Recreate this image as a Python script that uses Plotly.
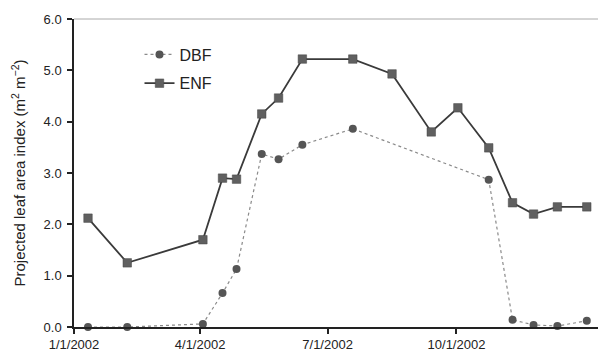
import plotly.graph_objects as go

dates = ["2002-01-11", "2002-02-08", "2002-04-03", "2002-04-17", "2002-04-27",
         "2002-05-15", "2002-05-27", "2002-06-13", "2002-07-19", "2002-08-16",
         "2002-09-13", "2002-10-02", "2002-10-24", "2002-11-10", "2002-11-25",
         "2002-12-12", "2003-01-02"]

dbf_dates = ["2002-01-11", "2002-02-08", "2002-04-03", "2002-04-17", "2002-04-27",
             "2002-05-15", "2002-05-27", "2002-06-13", "2002-07-19",
             "2002-10-24", "2002-11-10", "2002-11-25", "2002-12-12", "2003-01-02"]
dbf_vals = [0.0, 0.0, 0.06, 0.66, 1.13, 3.37, 3.27, 3.55, 3.86,
            2.87, 0.14, 0.04, 0.02, 0.12]

enf_vals = [2.12, 1.25, 1.70, 2.90, 2.88, 4.15, 4.46, 5.22, 5.22, 4.93,
            3.80, 4.27, 3.49, 2.42, 2.20, 2.34, 2.34]

tick_vals = ["2002-01-01", "2002-04-01", "2002-07-01", "2002-10-01"]
tick_text = ["1/1/2002", "4/1/2002", "7/1/2002", "10/1/2002"]
y_ticks = [0, 1, 2, 3, 4, 5, 6]
y_text = ["0.0", "1.0", "2.0", "3.0", "4.0", "5.0", "6.0"]

fig = go.Figure()
fig.add_trace(go.Scatter(
    x=dbf_dates, y=dbf_vals, name="DBF", mode="lines+markers", legendgroup="a",
    line=dict(color="#8a8a8a", width=1.2, dash="dot"),
    marker=dict(symbol="circle", size=8, color="#555555"),
    cliponaxis=False,
))
fig.add_trace(go.Scatter(
    x=dates, y=enf_vals, name="ENF", mode="lines+markers", legendgroup="b",
    line=dict(color="#3a3a3a", width=1.8),
    marker=dict(symbol="square", size=8.5, color="#606060",
                line=dict(color="#444444", width=0.5)),
    cliponaxis=False,
))

fig.update_layout(
    width=598, height=358,
    margin=dict(l=74, r=0, t=19, b=31),
    paper_bgcolor="white", plot_bgcolor="white",
    font=dict(family="Liberation Sans, Arial, sans-serif", size=13, color="#222222"),
    showlegend=True,
    legend=dict(x=0.125, y=0.94, xanchor="left", yanchor="top",
                bgcolor="rgba(0,0,0,0)", font=dict(size=16),
                traceorder="grouped", tracegroupgap=5, itemwidth=30),
    xaxis=dict(
        type="date", range=["2002-01-01", "2003-01-10"],
        tickvals=tick_vals, ticktext=tick_text,
        ticks="outside", ticklen=5, tickcolor="#222", tickwidth=1.5,
        showline=True, linecolor="#222", linewidth=1.5,
        showgrid=False, zeroline=False,
    ),
    yaxis=dict(
        range=[0, 6], tickvals=y_ticks, ticktext=y_text,
        ticks="outside", ticklen=5, tickcolor="#222", tickwidth=1.5,
        showline=True, linecolor="#222", linewidth=1.5,
        showgrid=False, zeroline=False, ticklabelstandoff=3,
        title=dict(text="Projected leaf area index (m<sup>2</sup> m<sup>\u22122</sup>)",
                   font=dict(size=15), standoff=14),
    ),
)
fig.add_shape(type="line", xref="paper", yref="paper", x0=0, x1=1, y0=1, y1=1,
              line=dict(color="#aaaaaa", width=1))

fig.write_html("out.html")
